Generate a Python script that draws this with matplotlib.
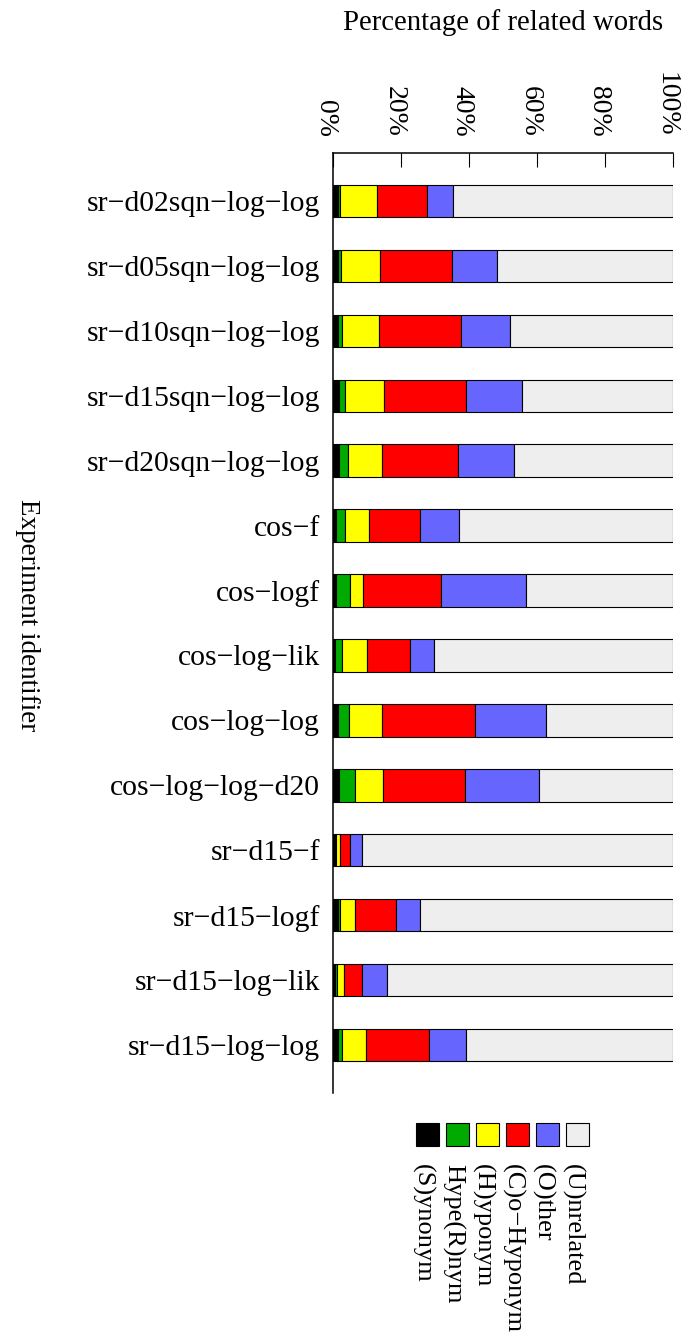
import matplotlib
matplotlib.use("Agg")
import matplotlib.pyplot as plt
from matplotlib.patches import Rectangle
from matplotlib.transforms import ScaledTranslation
import numpy as np

plt.rcParams['font.family'] = ['Liberation Serif', 'DejaVu Serif']

M = "\u2212"
experiments = [
    f"sr{M}d02sqn{M}log{M}log", f"sr{M}d05sqn{M}log{M}log",
    f"sr{M}d10sqn{M}log{M}log", f"sr{M}d15sqn{M}log{M}log",
    f"sr{M}d20sqn{M}log{M}log", f"cos{M}f", f"cos{M}logf",
    f"cos{M}log{M}lik", f"cos{M}log{M}log", f"cos{M}log{M}log{M}d20",
    f"sr{M}d15{M}f", f"sr{M}d15{M}logf", f"sr{M}d15{M}log{M}lik",
    f"sr{M}d15{M}log{M}log",
]

# percentages per relation type, one value per experiment
synonym = [1.5, 1.5, 1.5, 1.8, 1.9, 1.0, 1.0, 0.7, 1.5, 1.8, 0.8, 1.5, 0.7, 1.5]
hypernym = [0.7, 0.9, 1.2, 1.7, 2.4, 2.5, 4.1, 2.0, 3.3, 4.6, 0.2, 0.5, 0.5, 1.0]
hyponym = [10.6, 11.4, 10.9, 11.4, 10.1, 7.2, 3.7, 7.4, 9.7, 8.4, 1.0, 4.5, 2.1, 7.1]
cohyponym = [14.7, 21.3, 24.0, 24.1, 22.3, 14.8, 22.9, 12.5, 27.1, 24.0, 2.9, 12.1, 5.3, 18.6]
other = [7.7, 13.0, 14.5, 16.5, 16.5, 11.5, 24.9, 7.2, 21.0, 21.6, 3.7, 6.9, 7.4, 11.0]
unrelated = [64.8, 51.9, 47.9, 44.5, 46.8, 63.0, 43.4, 70.2, 37.4, 39.6, 91.4, 74.5, 84.0, 60.8]

series = [synonym, hypernym, hyponym, cohyponym, other, unrelated]
names = ["(S)ynonym", "Hype(R)nym", "(H)yponym", f"(C)o{M}Hyponym", "(O)ther", "(U)nrelated"]
colors = ["#000000", "#00aa00", "#ffff00", "#ff0000", "#6666ff", "#eeeeee"]
ticks = [0, 20, 40, 60, 80, 100]

W, H = 684, 1334
fig = plt.figure(figsize=(W / 100, H / 100), dpi=100, facecolor='white')
ax = fig.add_axes([333 / W, 1 - 1093 / H, 340.3 / W, 940 / H])

y = np.arange(len(experiments))
left = np.zeros(len(experiments))
for vals, col in zip(series, colors):
    ax.barh(y, vals, left=left, height=0.5, color=col,
            edgecolor='black', linewidth=0.8)
    left += np.array(vals)

ax.set_xlim(0, 100)
ax.set_ylim(len(experiments) - 0.26, -0.74)
ax.set_yticks(y)
ax.set_yticklabels(experiments, fontsize=21.3)
ax.set_xticks(ticks)
ax.set_xticklabels([])
ax.xaxis.tick_top()
ax.tick_params(axis='x', direction='in', length=10, width=0.8)
ax.tick_params(axis='y', length=0, pad=9.5)
for side in ('right', 'bottom'):
    ax.spines[side].set_visible(False)
for side in ('top', 'left'):
    ax.spines[side].set_linewidth(1.1)

# rotated percent labels above the top axis, nudged a bit left
lab_tr = ax.get_xaxis_transform() + ScaledTranslation(-7 / 100, 16 / 100,
                                                      fig.dpi_scale_trans)
for t in ticks:
    ax.text(t, 1, f"{t}%", transform=lab_tr, rotation=-90, fontsize=20,
            ha='center', va='bottom', clip_on=False)

fig.text(503 / W, 1 - 23 / H, "Percentage of related words",
         fontsize=20.7, ha='center', va='center')
fig.text(27 / W, 1 - 615 / H, "Experiment identifier", fontsize=19.5,
         rotation=-90, ha='center', va='center')

# legend: squares in a row with rotated labels below
sq = 23
for i, (name, col) in enumerate(zip(names, colors)):
    x0 = 416 + 30 * i
    fig.add_artist(Rectangle((x0 / W, 1 - 1146 / H), sq / W, sq / H,
                             transform=fig.transFigure, facecolor=col,
                             edgecolor='black', linewidth=0.8))
    fig.text((x0 + sq / 2 - 5) / W, 1 - 1164 / H, name, fontsize=19,
             rotation=-90, ha='center', va='top')

fig.savefig("out.png", dpi=100, facecolor='white')
